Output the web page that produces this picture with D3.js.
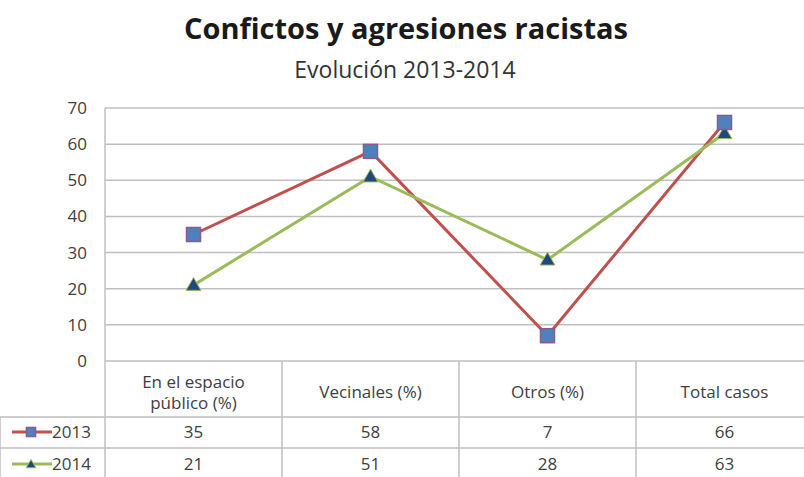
<!DOCTYPE html>
<html>
<head>
<meta charset="utf-8">
<script src="https://cdn.jsdelivr.net/npm/d3@7"></script>
<style>
  body { margin: 0; background: #fff; }
  text { font-family: "Open Sans", "Noto Sans", sans-serif; fill: #404040; }
</style>
</head>
<body>
<script>
// data
const categories = [["En el espacio", "público (%)"], ["Vecinales (%)"], ["Otros (%)"], ["Total casos"]];
const seriesNames = ["2013", "2014"];
const values2013 = [35, 58, 7, 66];
const values2014 = [21, 51, 28, 63];
const yTicks = [0, 10, 20, 30, 40, 50, 60, 70];

const width = 804, height = 477;
const plotLeft = 105, plotRight = 813, plotTop = 108, plotBottom = 361;

const svg = d3.select("body").append("svg")
    .attr("width", width)
    .attr("height", height);

// titles
svg.append("text")
    .attr("x", 406).attr("y", 39)
    .attr("text-anchor", "middle")
    .style("font-size", "29px").style("font-weight", "bold").style("fill", "#1a1a1a")
    .text("Confictos y agresiones racistas");
svg.append("text")
    .attr("x", 405).attr("y", 78)
    .attr("text-anchor", "middle")
    .style("font-size", "23px").style("fill", "#333")
    .text("Evolución 2013-2014");

const x = d3.scaleBand()
    .domain(d3.range(categories.length))
    .range([plotLeft, plotRight]);

const y = d3.scaleLinear()
    .domain([0, 70])
    .range([plotBottom, plotTop]);

// gridlines
svg.append("g").selectAll("line")
    .data(yTicks)
    .enter().append("line")
    .attr("x1", plotLeft).attr("x2", width)
    .attr("y1", d => y(d)).attr("y2", d => y(d))
    .style("stroke", "#bfbfbf").style("stroke-width", 1.5);

// y axis line
svg.append("line")
    .attr("x1", plotLeft).attr("x2", plotLeft)
    .attr("y1", plotTop).attr("y2", height)
    .style("stroke", "#bfbfbf").style("stroke-width", 1.5);

// y tick labels
svg.append("g").selectAll("text")
    .data(yTicks)
    .enter().append("text")
    .attr("x", 87)
    .attr("y", d => y(d))
    .attr("dy", "0.35em")
    .attr("text-anchor", "end")
    .style("font-size", "17px")
    .text(d => d);

// data table
const rowLines = [361, 417, 448];
svg.append("g").selectAll("line")
    .data(rowLines.slice(1))
    .enter().append("line")
    .attr("x1", 0).attr("x2", width)
    .attr("y1", d => d).attr("y2", d => d)
    .style("stroke", "#bfbfbf").style("stroke-width", 1.5);
svg.append("line")
    .attr("x1", 0).attr("x2", 0).attr("y1", 417).attr("y2", height)
    .style("stroke", "#bfbfbf").style("stroke-width", 1.5);
svg.append("g").selectAll("line")
    .data(d3.range(1, categories.length))
    .enter().append("line")
    .attr("x1", d => x(d)).attr("x2", d => x(d))
    .attr("y1", plotBottom).attr("y2", height)
    .style("stroke", "#bfbfbf").style("stroke-width", 1.5);

// header labels
const header = svg.append("g").selectAll("text")
    .data(categories)
    .enter().append("text")
    .attr("x", (d, i) => x(i) + x.bandwidth() / 2)
    .attr("y", d => d.length > 1 ? 388 : 398)
    .attr("text-anchor", "middle")
    .style("font-size", "17px");
header.selectAll("tspan")
    .data(d => d)
    .enter().append("tspan")
    .attr("x", function() { return this.parentNode.getAttribute("x"); })
    .attr("dy", (d, i) => i === 0 ? 0 : 21)
    .text(d => d);

const series = [
    { name: seriesNames[0], values: values2013, line: "#c0504d", marker: "square", fill: "#4f81bd", stroke: "#8c5a8e" },
    { name: seriesNames[1], values: values2014, line: "#9bbb59", marker: "triangle", fill: "#1f497d", stroke: "#1f497d" }
];
const rowY = [432, 464];

// table values
series.forEach((s, si) => {
    svg.append("g").selectAll("text")
        .data(s.values)
        .enter().append("text")
        .attr("x", (d, i) => x(i) + x.bandwidth() / 2)
        .attr("y", rowY[si])
        .attr("dy", "0.35em")
        .attr("text-anchor", "middle")
        .style("font-size", "17px")
        .text(d => d);
});

function drawMarker(g, s, cx, cy, k) {
    if (s.marker === "square") {
        g.append("rect")
            .attr("x", cx - 7 * k).attr("y", cy - 7 * k)
            .attr("width", 14 * k).attr("height", 14 * k)
            .style("fill", s.fill).style("stroke", s.stroke).style("stroke-width", 1.5);
    } else {
        g.append("path")
            .attr("d", d3.symbol().type(d3.symbolTriangle).size(95 * k * k)())
            .attr("transform", `translate(${cx},${cy + 1})`)
            .style("fill", s.fill).style("stroke", s.line).style("stroke-width", 1);
    }
}

// legend keys in table
series.forEach((s, si) => {
    const g = svg.append("g");
    g.append("line")
        .attr("x1", 12).attr("x2", 52)
        .attr("y1", rowY[si]).attr("y2", rowY[si])
        .style("stroke", s.line).style("stroke-width", 3);
    drawMarker(g, s, 31, rowY[si], 0.65);
    g.append("text")
        .attr("x", 52).attr("y", rowY[si])
        .attr("dy", "0.35em")
        .style("font-size", "17px")
        .text(s.name);
});

// lines and markers
const line = d3.line()
    .x((d, i) => x(i) + x.bandwidth() / 2)
    .y(d => y(d));

series.forEach(s => {
    svg.append("path")
        .datum(s.values)
        .attr("d", line)
        .style("fill", "none")
        .style("stroke", s.line)
        .style("stroke-width", 3);
});
series.slice().reverse().forEach(s => {
    const g = svg.append("g");
    s.values.forEach((v, i) => drawMarker(g, s, x(i) + x.bandwidth() / 2, y(v), 1));
});
</script>
</body>
</html>
